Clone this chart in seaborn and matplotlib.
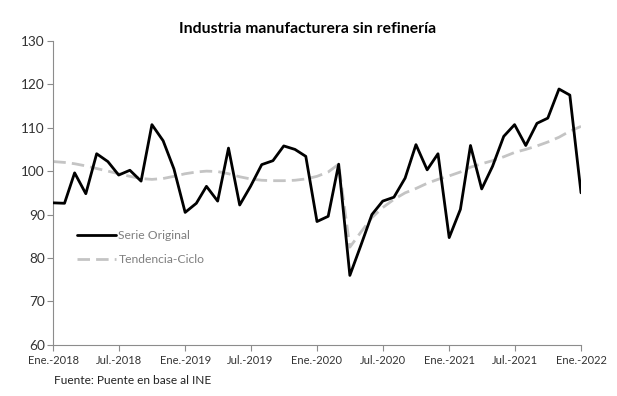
import pandas as pd
import seaborn as sns
import matplotlib.pyplot as plt

# Monthly index, Jan-2018 .. Jan-2022
months = pd.date_range("2018-01-01", "2022-01-01", freq="MS")

serie_original = [
    92.7, 92.6, 99.6, 94.8, 104.0, 102.2, 99.1, 100.2, 97.7, 110.7, 107.0, 100.5,
    90.5, 92.6, 96.5, 93.1, 105.3, 92.2, 96.5, 101.5, 102.4, 105.8, 105.0, 103.4,
    88.4, 89.6, 101.6, 76.0, 82.8, 90.0, 93.1, 94.0, 98.4, 106.1, 100.3, 104.0,
    84.7, 91.2, 105.9, 95.9, 101.1, 108.0, 110.7, 105.9, 111.0, 112.2, 118.9, 117.5,
    95.0,
]
tendencia_ciclo = [
    102.2, 102.0, 101.7, 101.2, 100.6, 100.0, 99.4, 98.8, 98.3, 98.1, 98.3, 98.8,
    99.4, 99.8, 100.0, 99.9, 99.4, 98.7, 98.2, 97.9, 97.8, 97.8, 97.9, 98.2,
    98.8, 99.8, 101.6, 82.5, 85.9, 89.3, 91.6, 93.5, 95.0, 96.0, 97.2, 98.1,
    98.9, 99.8, 100.9, 101.7, 102.4, 103.3, 104.3, 105.0, 105.8, 106.7, 107.8, 109.2,
    110.3,
]
tick_dates = pd.date_range("2018-01-01", "2022-01-01", freq="6MS")
tick_labels = ["Ene.-2018", "Jul.-2018", "Ene.-2019", "Jul.-2019", "Ene.-2020",
               "Jul.-2020", "Ene.-2021", "Jul.-2021", "Ene.-2022"]

df = pd.DataFrame({"fecha": months, "Serie Original": serie_original,
                   "Tendencia-Ciclo": tendencia_ciclo})

sns.set_style("white")
plt.rcParams["font.family"] = ["Lato", "DejaVu Sans"]

fig = plt.figure(figsize=(6.17, 3.96), dpi=100)
ax = fig.add_axes([0.0864, 0.129, 0.8553, 0.768])

sns.lineplot(data=df, x="fecha", y="Tendencia-Ciclo", ax=ax, color="#c4c4c4",
             linewidth=2.0, label="Tendencia-Ciclo", zorder=2)
ax.lines[-1].set_dashes((4.5, 2.2))
sns.lineplot(data=df, x="fecha", y="Serie Original", ax=ax, color="black",
             linewidth=2.0, label="Serie Original", zorder=3)
for ln in ax.lines:
    ln.set_solid_joinstyle("round")
    ln.set_dash_joinstyle("round")

ax.set_xlim(months[0], months[-1])
ax.set_ylim(60, 130)
ax.set_yticks(range(60, 131, 10))
ax.set_xticks(tick_dates)
ax.set_xticklabels(tick_labels)
ax.set_xlabel("")
ax.set_ylabel("")

for side in ["top", "right"]:
    ax.spines[side].set_visible(False)
for side in ["left", "bottom"]:
    ax.spines[side].set_color("#8c8c8c")
    ax.spines[side].set_linewidth(0.8)
ax.tick_params(axis="both", which="major", length=4, width=0.8, color="#8c8c8c",
               direction="out", left=True, bottom=True)
ax.tick_params(axis="y", labelsize=9.8, labelcolor="#333333", pad=2)
ax.tick_params(axis="x", labelsize=8, labelcolor="#333333", pad=3)

handles, labels = ax.get_legend_handles_labels()
order = [labels.index("Serie Original"), labels.index("Tendencia-Ciclo")]
leg = ax.legend([handles[i] for i in order], [labels[i] for i in order],
                loc="center left", bbox_to_anchor=(0.025, 0.32), frameon=False,
                fontsize=8.7, handlelength=3.2, handletextpad=0.2, labelspacing=1.1)
for t in leg.get_texts():
    t.set_color("#7f7f7f")

fig.text(0.498, 0.928, "Industria manufacturera sin refinería", ha="center",
         va="center", fontsize=11.3, fontweight="bold", color="black")
fig.text(0.088, 0.038, "Fuente: Puente en base al INE", ha="left", va="center",
         fontsize=8.6, color="#222222")

fig.savefig("out.png", dpi=100)
